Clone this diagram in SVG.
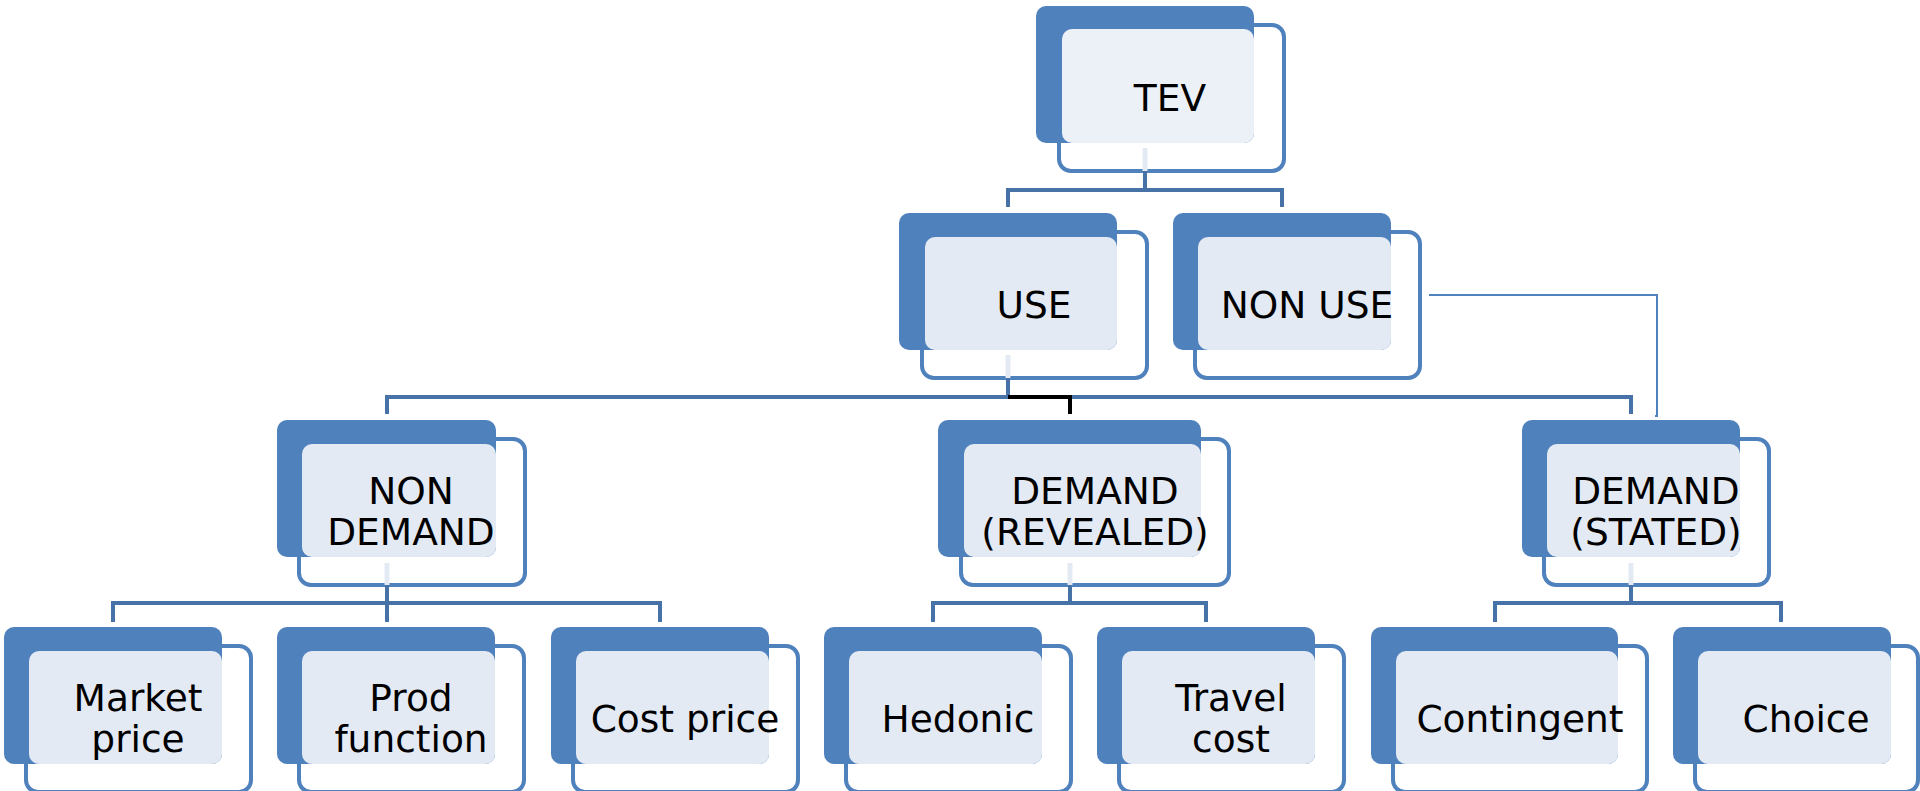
<svg xmlns="http://www.w3.org/2000/svg" width="1920" height="791" viewBox="0 0 1920 791">
  <style>
    .back { fill: #4F81BD; }
    .frame { fill: #FFFFFF; stroke: #4F81BD; stroke-width: 4; }
    .face { fill: #E4EAF4; }
    .face-top { fill: #ECF0F7; }
    .label { font-family: "DejaVu Sans", Verdana, sans-serif; font-size: 37.5px; fill: #000000; text-anchor: middle; }
    .link { fill: none; stroke: #4672A8; stroke-width: 4; }
    .stub { fill: none; stroke: #E4EAF4; stroke-width: 5; }
    .thin { fill: none; stroke: #4F81BD; stroke-width: 2; }
    .accent { fill: none; stroke: #000000; stroke-width: 4; }
  </style>

  <!-- level 1 -->
  <g id="node-tev">
    <rect class="frame" x="1059" y="25" width="225" height="146" rx="12"/>
    <rect class="back" x="1036" y="6" width="218" height="137" rx="10"/>
    <rect class="face-top" x="1062" y="29" width="192" height="114" rx="10"/>
    <text class="label" x="1170" y="111">TEV</text>
  </g>

  <!-- level 2 -->
  <g id="node-use">
    <rect class="frame" x="922" y="232" width="225" height="146" rx="12"/>
    <rect class="back" x="899" y="213" width="218" height="137" rx="10"/>
    <rect class="face" x="925" y="237" width="192" height="113" rx="10"/>
    <text class="label" x="1034" y="318">USE</text>
  </g>
  <g id="node-non-use">
    <rect class="frame" x="1195" y="232" width="225" height="146" rx="12"/>
    <rect class="back" x="1173" y="213" width="218" height="137" rx="10"/>
    <rect class="face" x="1198" y="237" width="193" height="113" rx="10"/>
    <text class="label" x="1307" y="318">NON USE</text>
  </g>

  <!-- level 3 -->
  <g id="node-non-demand">
    <rect class="frame" x="299" y="439" width="226" height="146" rx="12"/>
    <rect class="back" x="277" y="420" width="219" height="137" rx="10"/>
    <rect class="face" x="302" y="444" width="194" height="113" rx="10"/>
    <text class="label" x="411" y="504">NON</text>
    <text class="label" x="411" y="545">DEMAND</text>
  </g>
  <g id="node-demand-revealed">
    <rect class="frame" x="961" y="439" width="268" height="146" rx="12"/>
    <rect class="back" x="938" y="420" width="263" height="137" rx="10"/>
    <rect class="face" x="964" y="444" width="237" height="113" rx="10"/>
    <text class="label" x="1095" y="504">DEMAND</text>
    <text class="label" x="1095" y="545">(REVEALED)</text>
  </g>
  <g id="node-demand-stated">
    <rect class="frame" x="1544" y="439" width="225" height="146" rx="12"/>
    <rect class="back" x="1522" y="420" width="218" height="137" rx="10"/>
    <rect class="face" x="1547" y="444" width="193" height="113" rx="10"/>
    <text class="label" x="1656" y="504">DEMAND</text>
    <text class="label" x="1656" y="545">(STATED)</text>
  </g>

  <!-- level 4 -->
  <g id="node-market-price">
    <rect class="frame" x="26" y="646" width="225" height="146" rx="12"/>
    <rect class="back" x="4" y="627" width="218" height="137" rx="10"/>
    <rect class="face" x="29" y="651" width="193" height="113" rx="10"/>
    <text class="label" x="138" y="711">Market</text>
    <text class="label" x="138" y="752">price</text>
  </g>
  <g id="node-prod-function">
    <rect class="frame" x="299" y="646" width="225" height="146" rx="12"/>
    <rect class="back" x="277" y="627" width="218" height="137" rx="10"/>
    <rect class="face" x="302" y="651" width="193" height="113" rx="10"/>
    <text class="label" x="411" y="711">Prod</text>
    <text class="label" x="411" y="752">function</text>
  </g>
  <g id="node-cost-price">
    <rect class="frame" x="573" y="646" width="225" height="146" rx="12"/>
    <rect class="back" x="551" y="627" width="218" height="137" rx="10"/>
    <rect class="face" x="576" y="651" width="193" height="113" rx="10"/>
    <text class="label" x="685" y="732">Cost price</text>
  </g>
  <g id="node-hedonic">
    <rect class="frame" x="846" y="646" width="225" height="146" rx="12"/>
    <rect class="back" x="824" y="627" width="218" height="137" rx="10"/>
    <rect class="face" x="849" y="651" width="193" height="113" rx="10"/>
    <text class="label" x="958" y="732">Hedonic</text>
  </g>
  <g id="node-travel-cost">
    <rect class="frame" x="1119" y="646" width="225" height="146" rx="12"/>
    <rect class="back" x="1097" y="627" width="218" height="137" rx="10"/>
    <rect class="face" x="1122" y="651" width="193" height="113" rx="10"/>
    <text class="label" x="1231" y="711">Travel</text>
    <text class="label" x="1231" y="752">cost</text>
  </g>
  <g id="node-contingent">
    <rect class="frame" x="1393" y="646" width="254" height="146" rx="12"/>
    <rect class="back" x="1371" y="627" width="247" height="137" rx="10"/>
    <rect class="face" x="1396" y="651" width="222" height="113" rx="10"/>
    <text class="label" x="1520" y="732">Contingent</text>
  </g>
  <g id="node-choice">
    <rect class="frame" x="1695" y="646" width="223" height="146" rx="12"/>
    <rect class="back" x="1673" y="627" width="218" height="137" rx="10"/>
    <rect class="face" x="1698" y="651" width="193" height="113" rx="10"/>
    <text class="label" x="1806" y="732">Choice</text>
  </g>

  <!-- connectors, drawn over the frames so the pale stubs show inside them -->
  <g id="connectors">
    <!-- TEV to level 2 -->
    <path class="stub" d="M1145,148 V171"/>
    <path class="link" d="M1145,171 V190 M1008,207 V190 H1282 V207"/>
    <!-- USE to level 3 -->
    <path class="stub" d="M1008,355 V378"/>
    <path class="link" d="M1008,378 V397 M387,414 V397 H1631 V414"/>
    <path class="accent" d="M1008,397 H1070 V414"/>
    <!-- NON USE side link -->
    <path class="thin" d="M1429,295 H1657 V416 H1655"/>
    <!-- NON DEMAND to level 4 -->
    <path class="stub" d="M387,563 V585"/>
    <path class="link" d="M387,585 V622 M113,622 V603 H660 V622"/>
    <!-- DEMAND (REVEALED) to level 4 -->
    <path class="stub" d="M1070,563 V585"/>
    <path class="link" d="M1070,585 V603 M933,622 V603 H1206 V622"/>
    <!-- DEMAND (STATED) to level 4 -->
    <path class="stub" d="M1631,563 V585"/>
    <path class="link" d="M1631,585 V603 M1495,622 V603 H1781 V622"/>
  </g>
</svg>
